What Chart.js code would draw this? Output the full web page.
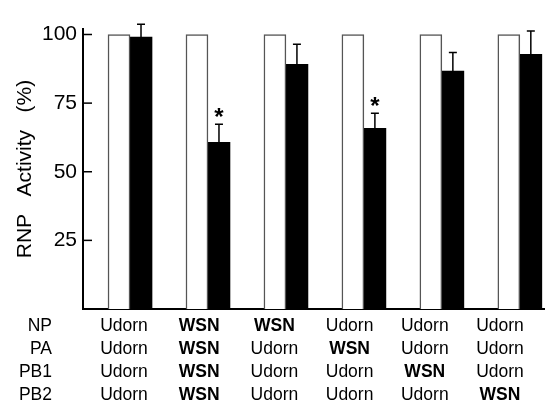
<!DOCTYPE html>
<html>
<head>
<meta charset="utf-8">
<script src="https://cdn.jsdelivr.net/npm/chart.js@4/dist/chart.umd.min.js"></script>
<style>
    html, body { margin: 0; padding: 0; background: #fff; overflow: hidden; }
    #wrap { width: 580px; height: 403px; }
</style>
</head>
<body>
<div id="wrap"><canvas id="chartCanvas" width="580" height="403"></canvas></div>
<script>
// Data
const groups = [0, 1, 2, 3, 4, 5];
const controlValues = [100, 100, 100, 100, 100, 100];
const mixValues = [99.1, 60.7, 89.1, 65.8, 86.7, 92.8];
const mixErrors = [4.6, 6.6, 7.3, 5.5, 6.7, 8.5];
const significant = [false, true, false, true, false, false];
const yTickLabels = [25, 50, 75, 100];

// Segment origin table under the bars
const segmentNames = ['NP', 'PA', 'PB1', 'PB2'];
const npSource = ['Udorn', 'WSN', 'WSN', 'Udorn', 'Udorn', 'Udorn'];
const paSource = ['Udorn', 'WSN', 'Udorn', 'WSN', 'Udorn', 'Udorn'];
const pb1Source = ['Udorn', 'WSN', 'Udorn', 'Udorn', 'WSN', 'Udorn'];
const pb2Source = ['Udorn', 'WSN', 'Udorn', 'Udorn', 'Udorn', 'WSN'];

const FONT = '"Liberation Sans", Arial, sans-serif';
Chart.defaults.font.family = FONT;
Chart.defaults.color = '#000';

// Error bars and significance stars on the black bars
const errorBars = {
    id: 'errorBars',
    afterDatasetsDraw(chart) {
        const meta = chart.getDatasetMeta(1);
        const y = chart.scales.y;
        const ctx = chart.ctx;
        ctx.save();
        ctx.strokeStyle = '#000';
        ctx.fillStyle = '#000';
        ctx.lineWidth = 1.5;
        meta.data.forEach((bar, i) => {
            const top = y.getPixelForValue(mixValues[i] + mixErrors[i]);
            ctx.beginPath();
            ctx.moveTo(bar.x, bar.y);
            ctx.lineTo(bar.x, top);
            ctx.moveTo(bar.x - 4, top);
            ctx.lineTo(bar.x + 4, top);
            ctx.stroke();
            if (significant[i]) {
                ctx.font = 'bold 24px ' + FONT;
                ctx.textAlign = 'center';
                ctx.textBaseline = 'alphabetic';
                ctx.fillText('*', bar.x, top + 1);
            }
        });
        ctx.restore();
    }
};

// Tick marks pointing into the plot
const innerTicks = {
    id: 'innerTicks',
    afterDraw(chart) {
        const y = chart.scales.y;
        const left = chart.chartArea.left;
        const ctx = chart.ctx;
        ctx.save();
        ctx.strokeStyle = '#000';
        ctx.lineWidth = 1.5;
        yTickLabels.forEach(v => {
            const py = y.getPixelForValue(v);
            ctx.beginPath();
            ctx.moveTo(left, py);
            ctx.lineTo(left + 9, py);
            ctx.stroke();
        });
        ctx.restore();
    }
};

// Table of segment origins
const originTable = {
    id: 'originTable',
    afterDraw(chart) {
        const xt = chart.scales.xt;
        const base = chart.chartArea.bottom;
        const ctx = chart.ctx;
        const rows = [npSource, paSource, pb1Source, pb2Source];
        ctx.save();
        ctx.fillStyle = '#000';
        ctx.textBaseline = 'middle';
        rows.forEach((row, r) => {
            const py = base + 17 + r * 23;
            ctx.font = '17.5px ' + FONT;
            ctx.textAlign = 'right';
            ctx.fillText(segmentNames[r], 52, py);
            ctx.textAlign = 'center';
            row.forEach((name, i) => {
                ctx.font = (name === 'WSN' ? 'bold ' : '') + '17.5px ' + FONT;
                ctx.fillText(name, xt.getPixelForValue(groups[i]), py);
            });
        });
        ctx.restore();
    }
};

const ctx = document.getElementById('chartCanvas').getContext('2d');
new Chart(ctx, {
    type: 'bar',
    data: {
        datasets: [
            {
                label: 'Udorn',
                data: groups.map((g, i) => ({ x: g, y: controlValues[i] })),
                backgroundColor: '#fff',
                borderColor: '#555',
                borderWidth: 1.5
            },
            {
                label: 'Reassortant',
                data: groups.map((g, i) => ({ x: g, y: mixValues[i] })),
                backgroundColor: '#000',
                borderColor: '#000',
                borderWidth: 0
            }
        ]
    },
    options: {
        responsive: false,
        animation: false,
        barThickness: 22,
        layout: { padding: { top: 29, bottom: 94, left: 0, right: 13.4 } },
        plugins: {
            legend: { display: false },
            tooltip: { enabled: false }
        },
        scales: {
            x: {
                type: 'linear',
                min: -0.603,
                max: 5.6,
                offset: false,
                ticks: { display: false },
                grid: { display: false, drawTicks: false },
                border: { color: '#000', width: 2 },
                afterFit(scale) { scale.height = 0; }
            },
            xt: {
                type: 'linear',
                axis: 'x',
                position: 'bottom',
                offset: false,
                min: -0.545,
                max: 5.886,
                ticks: { display: false },
                grid: { display: false, drawTicks: false },
                border: { display: false },
                afterFit(scale) { scale.height = 0; }
            },
            y: {
                min: 0,
                max: 102,
                ticks: {
                    padding: 6,
                    font: { size: 21 }
                },
                afterBuildTicks(scale) {
                    scale.ticks = yTickLabels.map(v => ({ value: v }));
                },
                grid: { display: false, drawTicks: false },
                border: { color: '#000', width: 2 },
                title: {
                    display: true,
                    text: 'RNP   Activity   (%)',
                    font: { size: 21 },
                    padding: { top: 13, bottom: 0 }
                },
                afterFit(scale) { scale.width = 83; }
            }
        }
    },
    plugins: [errorBars, innerTicks, originTable]
});
</script>
</body>
</html>
